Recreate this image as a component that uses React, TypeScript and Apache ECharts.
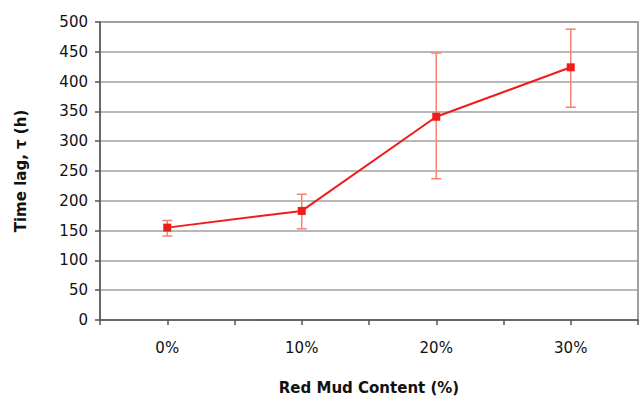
import React, { useEffect, useRef } from "react";
import * as echarts from "echarts";

const categories = [0, 10, 20, 30];
const means = [155, 183, 341, 424];
const lowers = [141, 153, 237, 357];
const uppers = [167, 211, 448, 488];
const yTicks = [0, 50, 100, 150, 200, 250, 300, 350, 400, 450, 500];

export default function App() {
  const ref = useRef<HTMLDivElement>(null);
  useEffect(() => {
    if (!ref.current) return;
    const chart = echarts.init(ref.current, null, { renderer: "svg" });
    const font = "DejaVu Sans, Liberation Sans, Arial, sans-serif";
    chart.setOption({
      animation: false,
      grid: {
        left: 100,
        right: 0,
        top: 22,
        bottom: 89,
        show: true,
        borderColor: "#808080",
        borderWidth: 1.5,
      },
      xAxis: {
        type: "value",
        min: -5,
        max: 35,
        interval: 5,
        name: "Red Mud Content (%)",
        nameLocation: "middle",
        nameGap: 60,
        nameTextStyle: { fontFamily: font, fontSize: 15, fontWeight: "bold", color: "#111" },
        axisLine: { show: true, onZero: false, lineStyle: { color: "#555", width: 1.5 } },
        axisTick: { show: true, length: 5, inside: false, lineStyle: { color: "#555", width: 1.5 } },
        splitLine: { show: false },
        axisLabel: {
          margin: 20,
          fontFamily: font,
          fontSize: 15,
          color: "#111",
          showMinLabel: true,
          showMaxLabel: true,
          formatter: (v: number) => (categories.includes(v) ? v + "%" : ""),
        },
      },
      yAxis: {
        type: "value",
        min: yTicks[0],
        max: yTicks[yTicks.length - 1],
        interval: 50,
        name: "Time lag, \u03c4 (h)",
        nameLocation: "middle",
        nameGap: 72,
        nameRotate: 90,
        nameTextStyle: { fontFamily: font, fontSize: 15, fontWeight: "bold", color: "#111" },
        axisLine: { show: true, onZero: false, lineStyle: { color: "#555", width: 1.5 } },
        axisTick: { show: true, length: 5, inside: false, lineStyle: { color: "#555", width: 1.5 } },
        splitLine: { show: true, lineStyle: { color: "#a0a0a0", width: 1.5 } },
        axisLabel: { margin: 12, fontFamily: font, fontSize: 15, color: "#111" },
      },
      series: [
        {
          type: "custom",
          z: 1,
          data: categories.map((c, i) => [c, lowers[i], uppers[i]]),
          renderItem: (params: any, api: any) => {
            const x = api.value(0);
            const lo = api.coord([x, api.value(1)]);
            const hi = api.coord([x, api.value(2)]);
            const w = 5;
            const style = { stroke: "#f7826f", lineWidth: 1.5 };
            return {
              type: "group",
              children: [
                { type: "line", shape: { x1: lo[0], y1: lo[1], x2: hi[0], y2: hi[1] }, style },
                { type: "line", shape: { x1: lo[0] - w, y1: lo[1], x2: lo[0] + w, y2: lo[1] }, style },
                { type: "line", shape: { x1: hi[0] - w, y1: hi[1], x2: hi[0] + w, y2: hi[1] }, style },
              ],
            };
          },
        },
        {
          type: "line",
          z: 2,
          data: categories.map((c, i) => [c, means[i]]),
          symbol: "rect",
          symbolSize: 8,
          lineStyle: { color: "#f01c1c", width: 2 },
          itemStyle: { color: "#f01c1c" },
        },
      ],
    });
    return () => chart.dispose();
  }, []);
  return <div ref={ref} style={{ width: 641, height: 409, position: "absolute", left: 0, top: 0 }} />;
}
